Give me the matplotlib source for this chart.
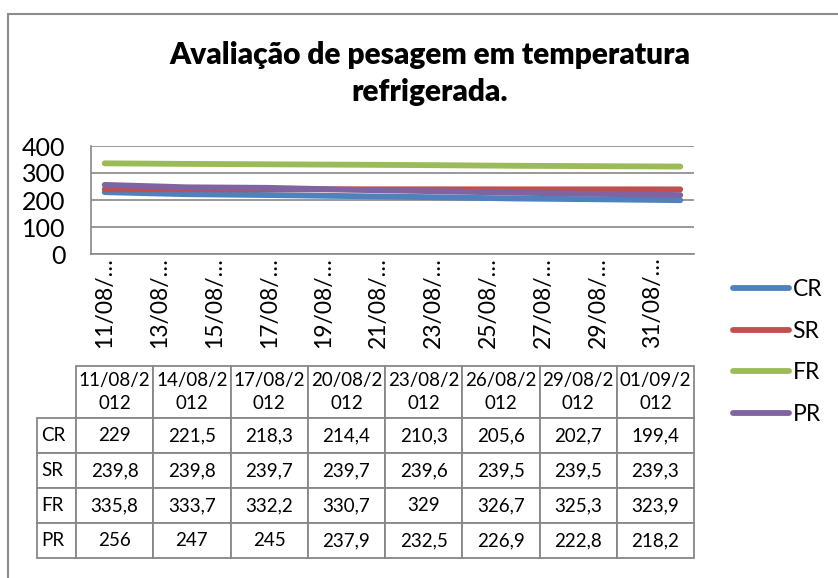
from datetime import datetime, timedelta
import matplotlib
matplotlib.use("Agg")
import matplotlib.pyplot as plt
from matplotlib.patches import Rectangle

plt.rcParams['font.family'] = ['Lato', 'DejaVu Sans']

datas = ["11/08/2012", "14/08/2012", "17/08/2012", "20/08/2012",
         "23/08/2012", "26/08/2012", "29/08/2012", "01/09/2012"]
series = ["CR", "SR", "FR", "PR"]
cr = [229, 221.5, 218.3, 214.4, 210.3, 205.6, 202.7, 199.4]
sr = [239.8, 239.8, 239.7, 239.7, 239.6, 239.5, 239.5, 239.3]
fr = [335.8, 333.7, 332.2, 330.7, 329, 326.7, 325.3, 323.9]
pr = [256, 247, 245, 237.9, 232.5, 226.9, 222.8, 218.2]
valores = [cr, sr, fr, pr]
cores = ["#4F81BD", "#C0504D", "#9BBB59", "#8064A2"]
y_ticks = [0, 100, 200, 300, 400]

W, H = 838, 578
cinza = "#878787"

def fx(px):
    return px / W

def fy(py):
    return 1 - py / H

fig = plt.figure(figsize=(W / 100, H / 100), dpi=100)

# moldura do gráfico (cortada à direita e embaixo)
fig.add_artist(Rectangle((fx(8), -0.1), 2, fy(14) + 0.1, transform=fig.transFigure,
                         fill=False, edgecolor="#8c8c8c", lw=1.5))

# título
fig.text(fx(430), fy(64), "Avaliação de pesagem em temperatura",
         ha="center", va="baseline", fontsize=21.5, fontweight="heavy")
fig.text(fx(430), fy(101), "refrigerada.",
         ha="center", va="baseline", fontsize=21.5, fontweight="heavy")

# gráfico de linhas
ax = fig.add_axes([fx(91), fy(254), fx(694) - fx(91), fy(146) - fy(254)])
d0 = datetime.strptime(datas[0], "%d/%m/%Y")
dias = [(datetime.strptime(d, "%d/%m/%Y") - d0).days for d in datas]
for nome, vals, cor in zip(series, valores, cores):
    ax.plot(dias, vals, color=cor, lw=4.2, solid_capstyle="round", label=nome)

ax.set_xlim(dias[0] - 0.5, dias[-1] + 0.5)
ax.set_ylim(0, 400)
ax.set_yticks(y_ticks)
ax.set_yticklabels([str(v) for v in y_ticks])
xt = list(range(dias[0], dias[-1] + 1, 2))
ax.set_xticks(xt)
ax.set_xticklabels([(d0 + timedelta(days=t)).strftime("%d/%m/") + "…" for t in xt],
                   rotation=90)
ax.tick_params(axis="y", length=0, pad=18.5, labelsize=18)
ax.tick_params(axis="x", length=0, pad=2, labelsize=16.5)
ax.grid(axis="y", color=cinza, lw=1.2)
ax.set_axisbelow(True)
for s in ["top", "right"]:
    ax.spines[s].set_visible(False)
for s in ["left", "bottom"]:
    ax.spines[s].set_color(cinza)
    ax.spines[s].set_linewidth(1.2)

# legenda
fig.legend(loc="center left", bbox_to_anchor=(fx(733), fy(352)), frameon=False,
           fontsize=16.5, handlelength=2.45, handletextpad=0.15,
           labelspacing=0.9, borderpad=0, borderaxespad=0)

# tabela de dados
tab_ax = fig.add_axes([fx(37), fy(558), fx(694) - fx(37), fy(366) - fy(558)])
tab_ax.axis("off")
cabecalho = [""] + [d[:7] + "\n" + d[7:] for d in datas]
linhas = [[nome] + [f"{v:g}".replace(".", ",") for v in vals]
          for nome, vals in zip(series, valores)]
larg = [39] + [77.25] * len(datas)
tab = tab_ax.table(cellText=[cabecalho] + linhas, cellLoc="center",
                   colWidths=[w / sum(larg) for w in larg], bbox=[0, 0, 1, 1])
tab.auto_set_font_size(False)
tab.set_fontsize(13.5)
for (r, c), cell in tab.get_celld().items():
    cell.set_edgecolor(cinza)
    cell.set_linewidth(1.3)
    cell.set_height(52 if r == 0 else 35)
    if r == 0:
        cell.get_text().set_linespacing(1.45)
    if c == 0:
        cell.get_text().set_ha("left")
tab[(0, 0)].visible_edges = ""

fig.savefig("out.png", dpi=100)
